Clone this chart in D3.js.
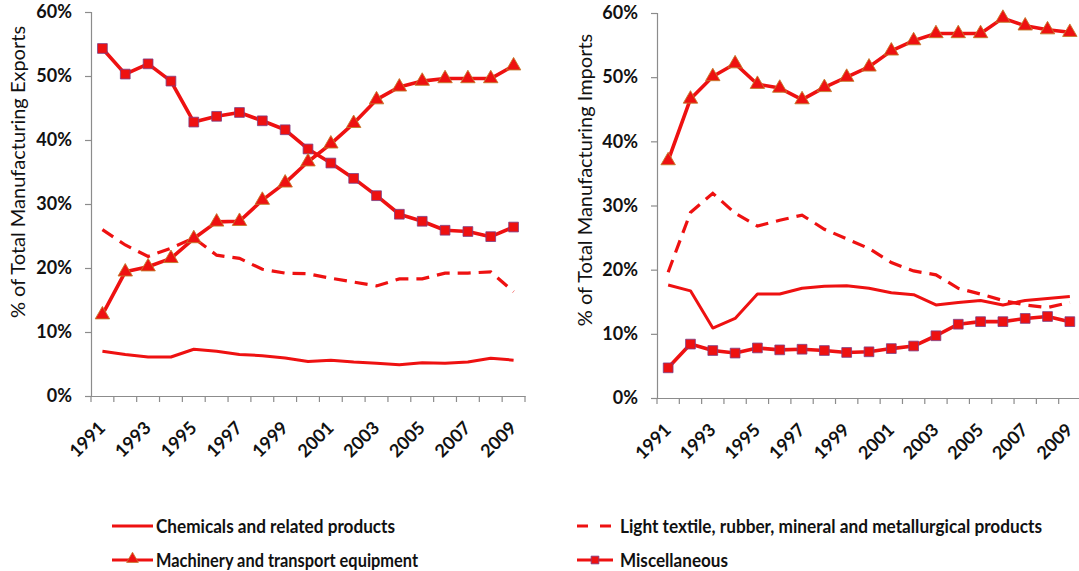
<!DOCTYPE html>
<html><head><meta charset="utf-8">
<script src="https://cdn.jsdelivr.net/npm/d3@7"></script>
<style>
html,body{margin:0;padding:0;background:#fff;}
svg{display:block;}
</style></head>
<body>
<svg id="chart" width="1079" height="571"></svg>
<script>
const years = [1991,1992,1993,1994,1995,1996,1997,1998,1999,2000,2001,2002,2003,2004,2005,2006,2007,2008,2009];
const yTicks = [0,10,20,30,40,50,60];
const xTickLabels = [1991,1993,1995,1997,1999,2001,2003,2005,2007,2009];

// Exports (% of total manufacturing exports)
const expChemicals = [7.0,6.5,6.1,6.1,7.3,7.0,6.5,6.3,5.95,5.4,5.6,5.3,5.1,4.9,5.2,5.1,5.3,5.9,5.6];
const expLight     = [26.0,23.6,21.8,23.1,24.7,22.0,21.5,19.8,19.2,19.1,18.4,17.8,17.2,18.3,18.3,19.2,19.2,19.4,16.3];
const expMachinery = [12.7,19.4,20.2,21.5,24.6,27.2,27.3,30.6,33.3,36.6,39.4,42.6,46.3,48.3,49.2,49.6,49.6,49.6,51.6];
const expMisc      = [54.3,50.3,51.9,49.2,42.8,43.7,44.3,43.0,41.6,38.6,36.4,34.0,31.3,28.4,27.3,25.9,25.7,24.9,26.4];

// Imports (% of total manufacturing imports)
const impChemicals = [17.6,16.7,10.9,12.4,16.2,16.2,17.1,17.4,17.5,17.1,16.4,16.1,14.5,14.9,15.2,14.5,15.2,15.5,15.8];
const impLight     = [19.6,28.9,31.9,28.8,26.8,27.7,28.5,26.3,24.8,23.3,21.1,19.8,19.2,17.1,16.2,15.2,14.5,14.1,14.9];
const impMachinery = [37.0,46.6,50.1,52.1,48.9,48.3,46.5,48.4,50.0,51.6,54.1,55.7,56.8,56.8,56.8,59.2,58.0,57.4,57.0];
const impMisc      = [4.7,8.4,7.4,7.0,7.8,7.5,7.6,7.4,7.1,7.2,7.7,8.1,9.7,11.5,11.9,11.9,12.4,12.7,11.9];

const seriesNames = ["Chemicals and related products","Light textile, rubber, mineral and metallurgical products","Machinery and transport equipment","Miscellaneous"];

const RED = "#ee1111";
const TRI_STROKE = "#c47a2a";
const SQ_STROKE = "#7b3f86";
const AXIS = "#8c8c8c";
const FONT = "Lato, 'Open Sans', sans-serif";

const svg = d3.select("#chart");

function drawPanel(cfg){
  const g = svg.append("g");
  const x = d3.scaleBand().domain(years).range([cfg.x0, cfg.x1]).paddingInner(0).paddingOuter(0);
  const y = d3.scaleLinear().domain([0,60]).range([cfg.y1, cfg.y0]);
  const cx = d => x(d) + x.bandwidth()/2;

  // y axis
  const ya = g.append("g").attr("transform",`translate(${cfg.x0},0)`)
    .call(d3.axisLeft(y).tickValues(yTicks).tickSize(6).tickPadding(13).tickFormat(d=>d+"%"));
  ya.select(".domain").attr("stroke",AXIS).attr("stroke-width",1.2);
  ya.selectAll(".tick line").attr("stroke",AXIS).attr("stroke-width",1.2);
  ya.selectAll(".tick text").attr("font-family",FONT).attr("font-weight","bold").attr("font-size",18).attr("fill","#111");

  // x axis line + ticks at band boundaries
  const xa = g.append("g").attr("transform",`translate(0,${cfg.y1})`)
    .call(d3.axisBottom(x).tickSize(0).tickFormat(""));
  xa.select(".domain").attr("stroke",AXIS).attr("stroke-width",1.2);
  const bounds = years.map(d=>x(d)).concat([x(years[years.length-1])+x.bandwidth()]);
  g.selectAll(".xt").data(bounds).enter().append("line")
    .attr("x1",d=>d).attr("x2",d=>d).attr("y1",cfg.y1).attr("y2",cfg.y1+6)
    .attr("stroke",AXIS).attr("stroke-width",1.2);
  g.selectAll(".xl").data(xTickLabels).enter().append("text")
    .attr("transform",d=>`translate(${cx(d)+4},${cfg.y1+33}) rotate(-45)`)
    .attr("text-anchor","end")
    .attr("font-family",FONT).attr("font-weight","bold").attr("font-size",18).attr("fill","#111")
    .text(d=>d);

  // axis title
  g.append("text")
    .attr("transform",`translate(${cfg.tx},${cfg.ty}) rotate(-90)`)
    .attr("text-anchor","middle").attr("dominant-baseline","central")
    .attr("font-family",FONT).attr("font-size",20).attr("fill","#111")
    .text(cfg.title);

  const line = d3.line().x((d,i)=>cx(years[i])).y(d=>y(d));

  g.append("path").datum(cfg.chem).attr("d",line).attr("fill","none")
    .attr("stroke",RED).attr("stroke-width",3).attr("stroke-linejoin","round");
  g.append("path").datum(cfg.light).attr("d",line).attr("fill","none")
    .attr("stroke",RED).attr("stroke-width",3.2).attr("stroke-dasharray","13,8");
  g.append("path").datum(cfg.misc).attr("d",line).attr("fill","none")
    .attr("stroke",RED).attr("stroke-width",3.6).attr("stroke-linejoin","round");
  g.append("path").datum(cfg.mach).attr("d",line).attr("fill","none")
    .attr("stroke",RED).attr("stroke-width",3.6).attr("stroke-linejoin","round");

  const sq = d3.symbol().type(d3.symbolSquare).size(95);
  g.selectAll(".sq").data(cfg.misc).enter().append("path")
    .attr("d",sq).attr("transform",(d,i)=>`translate(${cx(years[i])},${y(d)})`)
    .attr("fill",RED).attr("stroke",SQ_STROKE).attr("stroke-width",0.8);
  const tri = d3.symbol().type(d3.symbolTriangle).size(90);
  g.selectAll(".tr").data(cfg.mach).enter().append("path")
    .attr("d",tri).attr("transform",(d,i)=>`translate(${cx(years[i])},${y(d)})`)
    .attr("fill",RED).attr("stroke",TRI_STROKE).attr("stroke-width",0.9);
}

drawPanel({x0:91,x1:525,y0:12,y1:396,tx:17,ty:172,title:"% of Total Manufacturing Exports",
  chem:expChemicals,light:expLight,mach:expMachinery,misc:expMisc});
drawPanel({x0:657,x1:1081,y0:13,y1:398,tx:584,ty:180,title:"% of Total Manufacturing Imports",
  chem:impChemicals,light:impLight,mach:impMachinery,misc:impMisc});

// legend
const legendItems = [
  {name:seriesNames[0], x:112, y:526, type:"solid", w:239},
  {name:seriesNames[1], x:577, y:526, type:"dash", w:422},
  {name:seriesNames[2], x:112, y:560, type:"tri", w:262},
  {name:seriesNames[3], x:577, y:560, type:"sq", w:108}
];
const lg = svg.append("g");
legendItems.forEach(it=>{
  const isLeft = it.x < 300;
  const x2 = isLeft ? 153 : 613;
  const tx = isLeft ? 156 : 620;
  lg.append("line").attr("x1",it.x).attr("x2",x2).attr("y1",it.y).attr("y2",it.y)
    .attr("stroke",RED).attr("stroke-width",3.2)
    .attr("stroke-dasharray", it.type==="dash" ? "11,12" : null);
  const mx = (it.x + x2)/2;
  if(it.type==="tri"){
    lg.append("path").attr("d",d3.symbol().type(d3.symbolTriangle).size(60)())
      .attr("transform",`translate(${mx},${it.y-1})`).attr("fill",RED).attr("stroke",TRI_STROKE).attr("stroke-width",0.8);
  } else if(it.type==="sq"){
    lg.append("path").attr("d",d3.symbol().type(d3.symbolSquare).size(60)())
      .attr("transform",`translate(${mx},${it.y})`).attr("fill",RED).attr("stroke",SQ_STROKE).attr("stroke-width",0.8);
  }
  lg.append("text").attr("x",tx).attr("y",it.y).attr("dominant-baseline","central")
    .attr("font-family",FONT).attr("font-weight","bold").attr("font-size",18).attr("fill","#111")
    .attr("textLength",it.w).attr("lengthAdjust","spacingAndGlyphs")
    .text(it.name);
});
</script>
</body></html>
